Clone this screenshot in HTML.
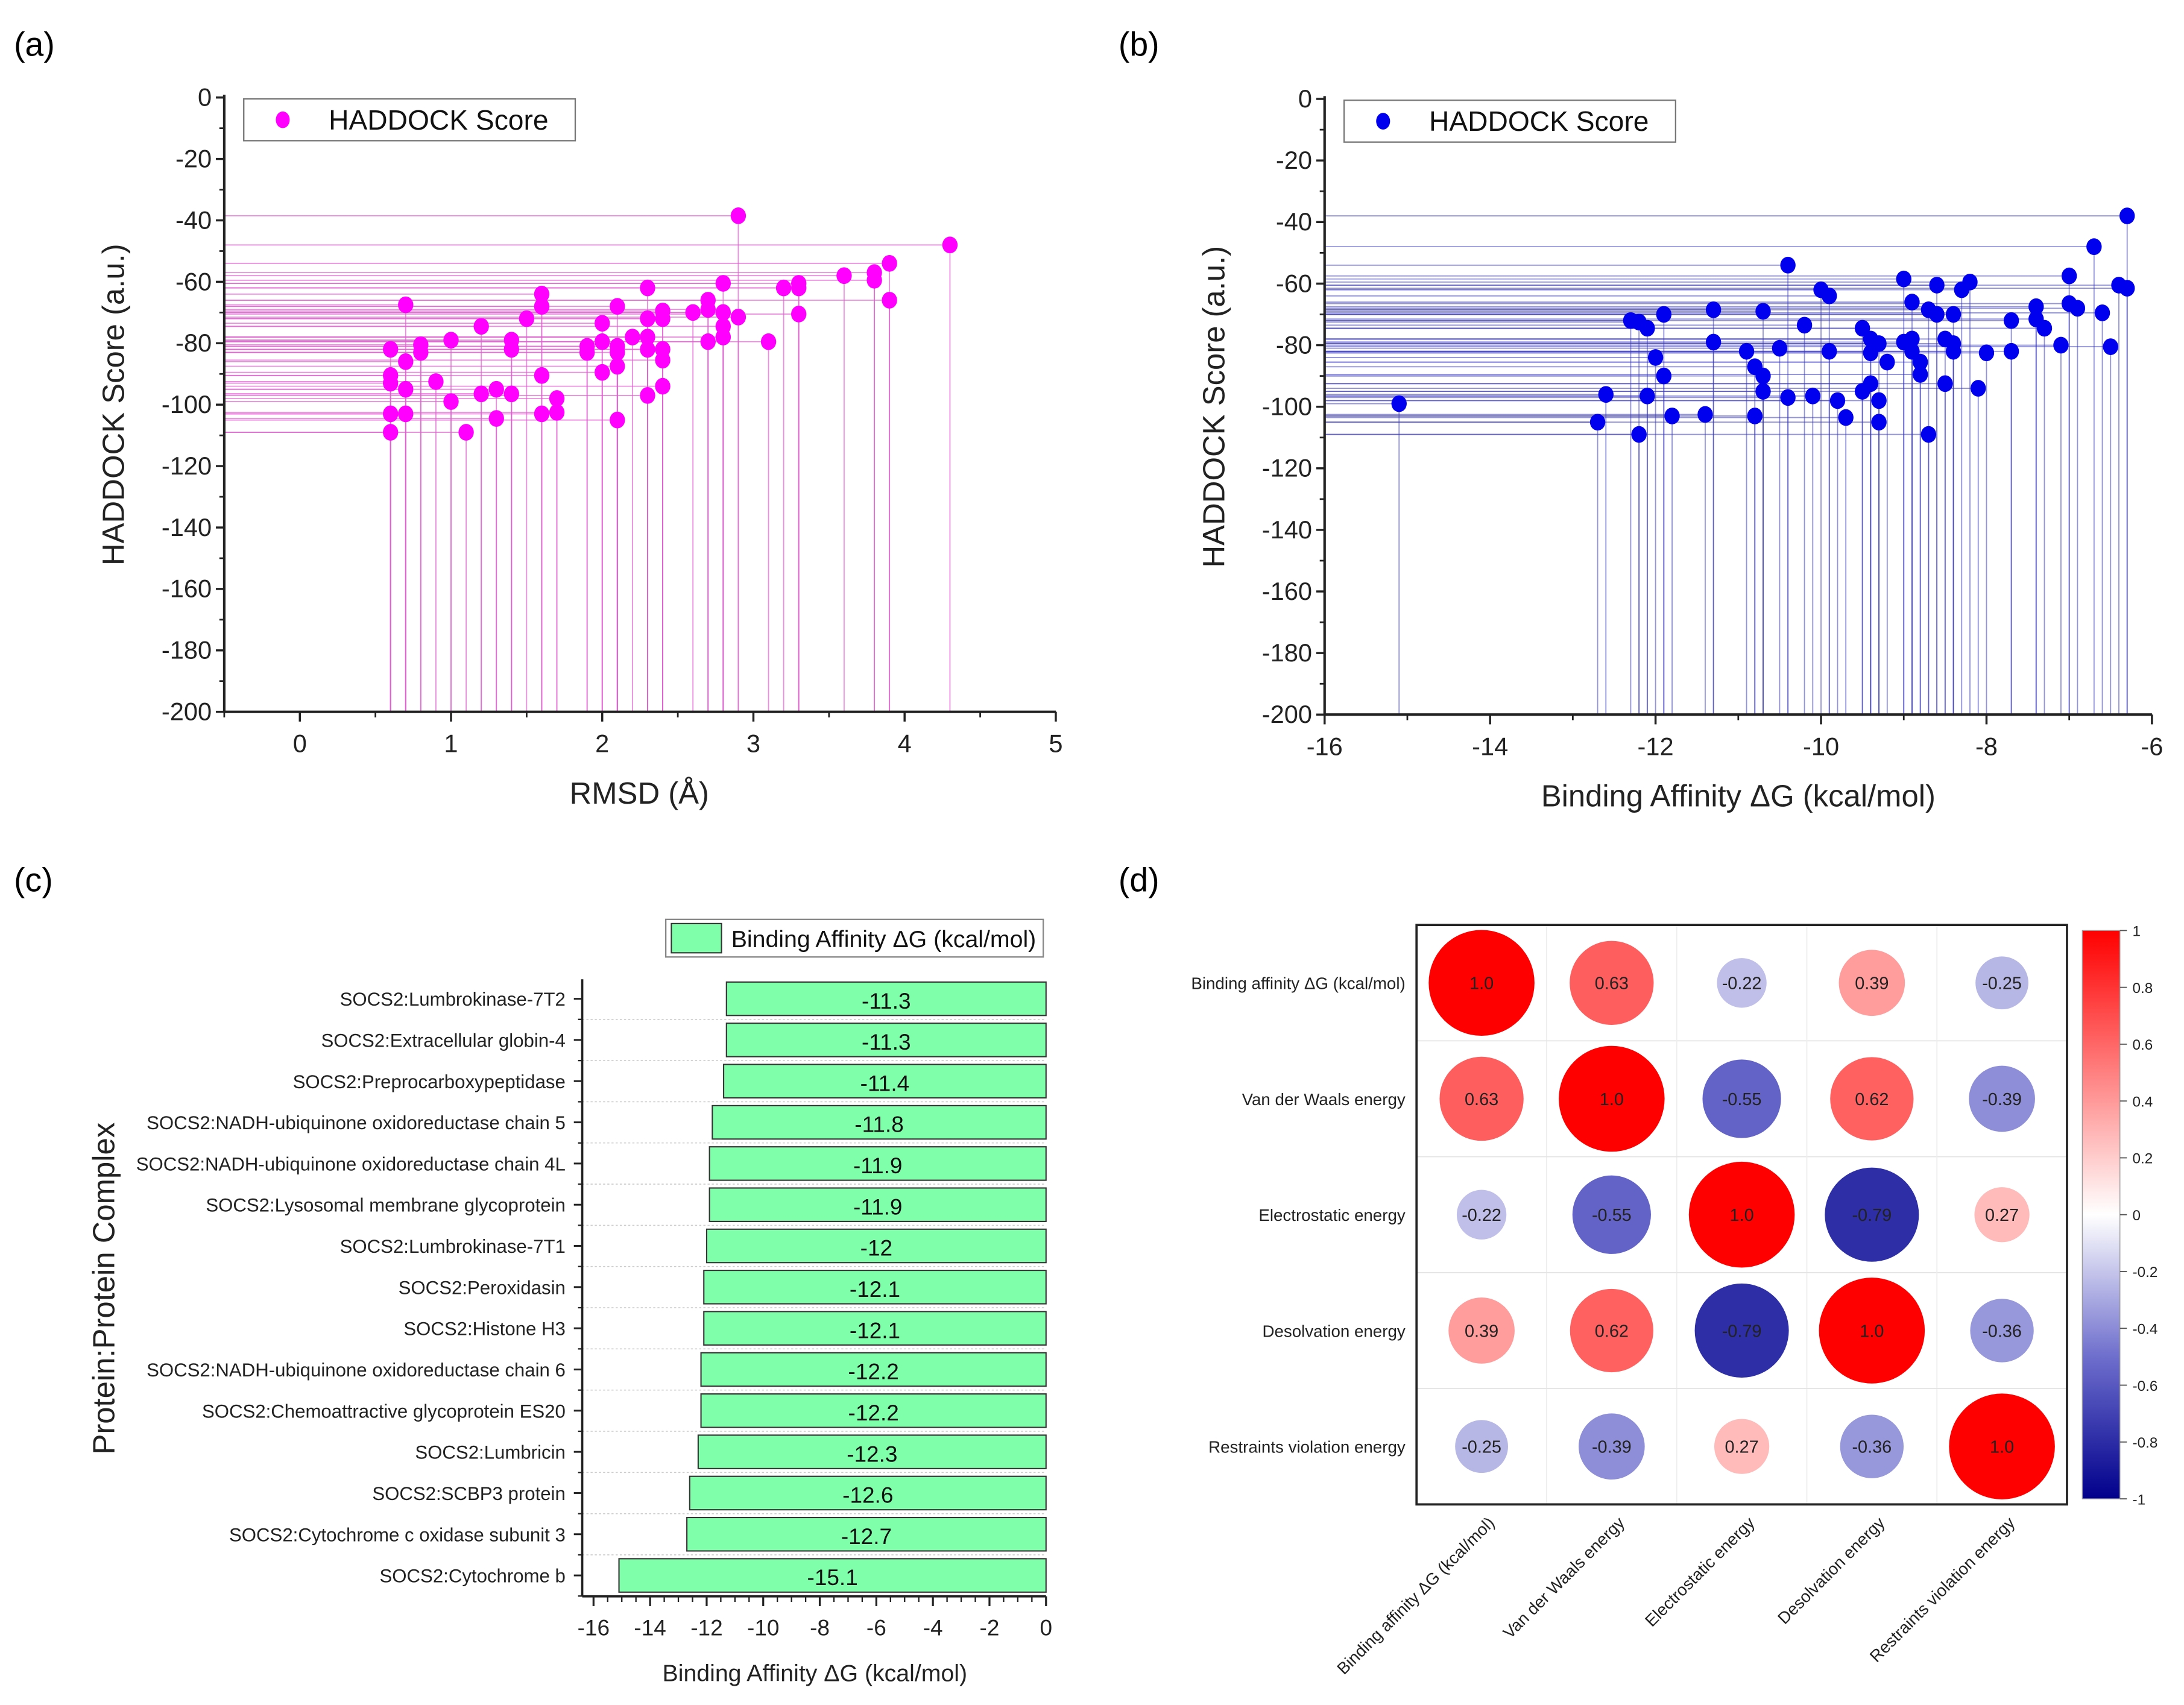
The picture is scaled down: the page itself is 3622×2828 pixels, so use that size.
<!DOCTYPE html>
<html><head><meta charset="utf-8"><style>
html,body{margin:0;padding:0;background:#fff;}
svg{display:block;font-family:"Liberation Sans",Arial,sans-serif;}
</style></head><body>
<svg id="fig" width="3622" height="2828" viewBox="0 0 1568 1224" preserveAspectRatio="none" xmlns="http://www.w3.org/2000/svg">
<rect width="1568" height="1224" fill="#fff"/>
<g id="pa"></g>
<g id="pb"></g>
<g id="pc"></g>
<g id="pd"></g>
</svg>
<script>
// Panel (a) data: RMSD vs HADDOCK score
const rmsdX = [0.6,0.6,0.6,0.6,0.6,0.7,0.7,0.7,0.7,0.8,0.8,0.9,1.0,1.0,1.1,1.2,1.2,1.3,1.3,1.4,1.4,1.4,1.5,1.6,1.6,1.6,1.6,1.7,1.7,1.9,1.9,2.0,2.0,2.0,2.1,2.1,2.1,2.1,2.1,2.2,2.3,2.3,2.3,2.3,2.3,2.4,2.4,2.4,2.4,2.4,2.6,2.7,2.7,2.7,2.8,2.8,2.8,2.8,2.9,2.9,3.1,3.2,3.3,3.3,3.3,3.6,3.8,3.8,3.9,3.9,4.3];
const rmsdScore = [-82,-90.5,-93,-103,-109,-67.5,-86,-95,-103,-80.5,-83,-92.5,-79,-99,-109,-74.5,-96.5,-95,-104.5,-79,-82,-96.5,-72,-64,-68,-90.5,-103,-98,-102.5,-81,-83,-73.5,-79.5,-89.5,-68,-81,-83,-87.5,-105,-78,-62,-72,-78,-82,-97,-69.5,-72,-82,-85.5,-94,-70,-66,-69,-79.5,-60.5,-70,-74.5,-78,-38.5,-71.5,-79.5,-62,-60.5,-62,-70.5,-58,-57,-59.5,-54,-66,-48];
// Panel (b) data: binding affinity vs HADDOCK score
const bindX = [-15.1,-12.7,-12.6,-12.3,-12.2,-12.2,-12.1,-12.1,-12.0,-11.9,-11.9,-11.8,-11.4,-11.3,-11.3,-10.9,-10.8,-10.8,-10.7,-10.7,-10.7,-10.5,-10.4,-10.4,-10.2,-10.1,-10.0,-9.9,-9.9,-9.8,-9.7,-9.5,-9.5,-9.4,-9.4,-9.4,-9.3,-9.3,-9.3,-9.2,-9.0,-9.0,-8.9,-8.9,-8.9,-8.8,-8.8,-8.7,-8.7,-8.6,-8.6,-8.5,-8.5,-8.4,-8.4,-8.4,-8.3,-8.2,-8.1,-8.0,-7.7,-7.7,-7.4,-7.4,-7.3,-7.1,-7.0,-7.0,-6.9,-6.7,-6.6,-6.5,-6.4,-6.3,-6.3];
const bindScore = [-99,-105,-96,-72,-72.5,-109,-74.5,-96.5,-84,-70,-90,-103,-102.5,-68.5,-79,-82,-87,-103,-69,-90,-95,-81,-54,-97,-73.5,-96.5,-62,-64,-82,-98,-103.5,-74.5,-95,-78,-82.5,-92.5,-79.5,-98,-105,-85.5,-58.5,-79,-66,-78,-82,-85.5,-89.5,-68.5,-109,-60.5,-70,-78,-92.5,-70,-79.5,-82,-62,-59.5,-94,-82.5,-72,-82,-67.5,-71.5,-74.5,-80,-57.5,-66.5,-68,-48,-69.5,-80.5,-60.5,-61.5,-38];
const yTicksAB = [0,-20,-40,-60,-80,-100,-120,-140,-160,-180,-200];
const xTicksA = [0,1,2,3,4,5];
const xTicksB = [-16,-14,-12,-10,-8,-6];
// Panel (c) data
const complexNames = ["SOCS2:Lumbrokinase-7T2","SOCS2:Extracellular globin-4","SOCS2:Preprocarboxypeptidase","SOCS2:NADH-ubiquinone oxidoreductase chain 5","SOCS2:NADH-ubiquinone oxidoreductase chain 4L","SOCS2:Lysosomal membrane glycoprotein","SOCS2:Lumbrokinase-7T1","SOCS2:Peroxidasin","SOCS2:Histone H3","SOCS2:NADH-ubiquinone oxidoreductase chain 6","SOCS2:Chemoattractive glycoprotein ES20","SOCS2:Lumbricin","SOCS2:SCBP3 protein","SOCS2:Cytochrome c oxidase subunit 3","SOCS2:Cytochrome b"];
const affinity = [-11.3,-11.3,-11.4,-11.8,-11.9,-11.9,-12,-12.1,-12.1,-12.2,-12.2,-12.3,-12.6,-12.7,-15.1];
const xTicksC = [-16,-14,-12,-10,-8,-6,-4,-2,0];
// Panel (d) data
const corrVars = ["Binding affinity ΔG (kcal/mol)","Van der Waals energy","Electrostatic energy","Desolvation energy","Restraints violation energy"];
const corrRow0 = [1.0,0.63,-0.22,0.39,-0.25];
const corrRow1 = [0.63,1.0,-0.55,0.62,-0.39];
const corrRow2 = [-0.22,-0.55,1.0,-0.79,0.27];
const corrRow3 = [0.39,0.62,-0.79,1.0,-0.36];
const corrRow4 = [-0.25,-0.39,0.27,-0.36,1.0];
const cbTicks = [1,0.8,0.6,0.4,0.2,0,-0.2,-0.4,-0.6,-0.8,-1];

const NS="http://www.w3.org/2000/svg";
function mk(parent,tag,attrs,text){const e=document.createElementNS(NS,tag);for(const k in attrs)e.setAttribute(k,attrs[k]);if(text!==undefined)e.textContent=text;parent.appendChild(e);return e;}

function scatterPanel(g,label,labX,ax,xs,ys,xTicks,xMin,xMax,xT,color,lineColor,lineOp,xTitle,minorStep){
  const sx=v=>ax.x0+(v-xMin)/(xMax-xMin)*(ax.x1-ax.x0);
  const sy=v=>ax.y0+(0-v)/200*(ax.y1-ax.y0);
  let t=mk(g,'text',{x:labX,y:40,'font-size':24},label);
  
  
  const lines=mk(g,'g',{});
  
  
  for(let i=0;i<xs.length;i++){
    const px=sx(xs[i]),py=sy(ys[i]);
    let h=mk(lines,'line',{x1:ax.x0,y1:py,x2:px,y2:py,stroke:lineColor,'stroke-width':0.8,'stroke-opacity':lineOp});
    
    
    let v=mk(lines,'line',{x1:px,y1:py,x2:px,y2:ax.y1,stroke:lineColor,'stroke-width':0.8,'stroke-opacity':lineOp});
    
    
  }
  for(let i=0;i<xs.length;i++){
    let c=mk(g,'ellipse',{cx:sx(xs[i]),cy:sy(ys[i]),rx:5.5,ry:6,fill:color});
    
    
  }
  // axes
  let ya=mk(g,'line',{x1:ax.x0,y1:ax.y0-2,x2:ax.x0,y2:ax.y1,stroke:'#222','stroke-width':1.8});
  
  
  let xa=mk(g,'line',{x1:ax.x0,y1:ax.y1,x2:ax.x1,y2:ax.y1,stroke:'#222','stroke-width':1.8});
  
  
  for(let k=0;k<yTicksAB.length;k++){
    const v=yTicksAB[k],py=sy(v);
    mk(g,'line',{x1:ax.x0-6,y1:py,x2:ax.x0,y2:py,stroke:'#222','stroke-width':1.5});
    if(v>-200) mk(g,'line',{x1:ax.x0-3.5,y1:sy(v-10),x2:ax.x0,y2:sy(v-10),stroke:'#222','stroke-width':1.2});
    let tl=mk(g,'text',{x:ax.x0-9,y:py+6,'font-size':18,'text-anchor':'end',fill:'#222'},v);
    
    
  }
  for(let v=xMin;v<=xMax+1e-9;v+=minorStep){
    mk(g,'line',{x1:sx(v),y1:ax.y1,x2:sx(v),y2:ax.y1+4,stroke:'#222','stroke-width':1.2});
  }
  for(let k=0;k<xTicks.length;k++){
    const px=sx(xTicks[k]);
    mk(g,'line',{x1:px,y1:ax.y1,x2:px,y2:ax.y1+7,stroke:'#222','stroke-width':1.5});
    let tl=mk(g,'text',{x:px,y:ax.y1+29,'font-size':18,'text-anchor':'middle',fill:'#222'},xTicks[k]);
    
    
  }
  let xt=mk(g,'text',{x:xT,y:ax.y1+66,'font-size':22,'text-anchor':'middle',fill:'#222'},xTitle);
  
  
  const cy=(ax.y0+ax.y1)/2;
  let yt=mk(g,'text',{x:ax.x0-72,y:cy,'font-size':22,'text-anchor':'middle',fill:'#222',transform:`rotate(-90 ${ax.x0-72} ${cy})`},'HADDOCK Score (a.u.)');
  
  
  const lg=mk(g,'g',{});
  
  
  mk(lg,'rect',{x:ax.x0+14,y:ax.y0+1,width:238,height:30,fill:'#fff',stroke:'#777','stroke-width':1});
  mk(lg,'ellipse',{cx:ax.x0+42,cy:ax.y0+16,rx:5,ry:6,fill:color});
  mk(lg,'text',{x:ax.x0+75,y:ax.y0+23,'font-size':20,fill:'#111'},'HADDOCK Score');
}

scatterPanel(document.getElementById('pa'),'(a)',10,{x0:161,x1:758,y0:70,y1:511},rmsdX,rmsdScore,xTicksA,-0.5,5.0,459,'#ff00ff','#e060d0',0.7,'RMSD (Å)',0.5);
scatterPanel(document.getElementById('pb'),'(b)',803,{x0:951,x1:1545,y0:71,y1:513},bindX,bindScore,xTicksB,-16,-6,1248,'#0000ee','#3a3ab8',0.55,'Binding Affinity ΔG (kcal/mol)',1);

// Panel (c)
(function(){
  const g=document.getElementById('pc');
  const ax={x0:418,x1:751,y0:703,y1:1146};
  const xMin=-16.4,xMax=0;
  const sx=v=>ax.x0+(v-xMin)/(xMax-xMin)*(ax.x1-ax.x0);
  const rowY=i=>717+i*29.57;
  let t=mk(g,'text',{x:10,y:640,'font-size':24},'(c)');
  
  
  for(let i=0;i<complexNames.length-1;i++){
    mk(g,'line',{x1:ax.x0,y1:rowY(i)+14.8,x2:ax.x1,y2:rowY(i)+14.8,stroke:'#ccc','stroke-width':0.7,'stroke-dasharray':'1.5 1.5'});
  }
  for(let i=0;i<affinity.length;i++){
    const y=rowY(i),x=sx(affinity[i]);
    let b=mk(g,'rect',{x:x,y:y-12,width:sx(0)-x,height:24,fill:'#80ffaa',stroke:'#333','stroke-width':0.9});
    
    
    let v=mk(g,'text',{x:(x+sx(0))/2,y:y+7,'font-size':16,'text-anchor':'middle',fill:'#111'},affinity[i]);
    
    
    mk(g,'line',{x1:ax.x0-6,y1:y,x2:ax.x0,y2:y,stroke:'#222','stroke-width':1.3});
    mk(g,'line',{x1:ax.x0-3,y1:y+14.8,x2:ax.x0,y2:y+14.8,stroke:'#222','stroke-width':1});
    let l=mk(g,'text',{x:ax.x0-12,y:y+5,'font-size':13.5,'text-anchor':'end',fill:'#222'},complexNames[i]);
    
    
  }
  let ya=mk(g,'line',{x1:ax.x0,y1:ax.y0,x2:ax.x0,y2:ax.y1,stroke:'#222','stroke-width':1.6});
  
  
  let xa=mk(g,'line',{x1:ax.x0,y1:ax.y1,x2:ax.x1,y2:ax.y1,stroke:'#222','stroke-width':1.6});
  
  
  for(let v=-16;v<=0;v+=0.5) mk(g,'line',{x1:sx(v),y1:ax.y1,x2:sx(v),y2:ax.y1+4,stroke:'#222','stroke-width':1});
  for(let k=0;k<xTicksC.length;k++){
    const px=sx(xTicksC[k]);
    mk(g,'line',{x1:px,y1:ax.y1,x2:px,y2:ax.y1+7,stroke:'#222','stroke-width':1.4});
    let tl=mk(g,'text',{x:px,y:ax.y1+28,'font-size':16,'text-anchor':'middle',fill:'#222'},xTicksC[k]);
    
    
  }
  let xt=mk(g,'text',{x:585,y:1207,'font-size':17,'text-anchor':'middle',fill:'#222'},'Binding Affinity ΔG (kcal/mol)');
  
  
  let yt=mk(g,'text',{x:82,y:925,'font-size':22,'text-anchor':'middle',fill:'#222',transform:'rotate(-90 82 925)'},'Protein:Protein Complex');
  
  
  const lg=mk(g,'g',{});
  
  
  mk(lg,'rect',{x:478,y:660,width:271,height:27,fill:'#fff',stroke:'#888','stroke-width':1});
  mk(lg,'rect',{x:482,y:663,width:36,height:21,fill:'#80ffaa',stroke:'#333','stroke-width':0.9});
  mk(lg,'text',{x:525,y:680,'font-size':17,fill:'#111'},'Binding Affinity ΔG (kcal/mol)');
})();

// Panel (d)
(function(){
  const g=document.getElementById('pd');
  const corr=[corrRow0,corrRow1,corrRow2,corrRow3,corrRow4];
  const bx=1017,by=664,bw=467,bh=416,cw=bw/5,ch=bh/5;
  function col(v){
    let r,gg,b;
    if(v>=0){r=255;gg=Math.round(255*(1-v));b=gg;}
    else{const a=-v;
      if(a<=0.5){const f=a/0.5;r=Math.round(255-f*(255-110));gg=r;b=Math.round(255-f*(255-205));}
      else{const f=(a-0.5)/0.5;r=Math.round(110-f*110);gg=r;b=Math.round(205-f*(205-140));}}
    return `rgb(${r},${gg},${b})`;
  }
  let t=mk(g,'text',{x:803,y:640,'font-size':24},'(d)');
  
  
  mk(g,'rect',{x:bx,y:by,width:bw,height:bh,fill:'#fff'});
  for(let k=1;k<5;k++){
    mk(g,'line',{x1:bx+k*cw,y1:by,x2:bx+k*cw,y2:by+bh,stroke:'#eee','stroke-width':0.8});
    mk(g,'line',{x1:bx,y1:by+k*ch,x2:bx+bw,y2:by+k*ch,stroke:'#e4e4e4','stroke-width':0.8});
  }
  for(let i=0;i<5;i++){
    for(let j=0;j<5;j++){
      const v=corr[i][j],cx=bx+(j+0.5)*cw,cy=by+(i+0.5)*ch,r=38*Math.sqrt(Math.abs(v));
      let c=mk(g,'circle',{cx:cx,cy:cy,r:r,fill:col(v)});
      
      
      let tx=mk(g,'text',{x:cx,y:cy+4.5,'font-size':12.5,'text-anchor':'middle',fill:'#222'},v===1?'1.0':v);
      
      
    }
    let rl=mk(g,'text',{x:bx-8,y:by+(i+0.5)*ch+4.5,'font-size':12,'text-anchor':'end',fill:'#222'},corrVars[i]);
    
    
    const lx=bx+(i+0.5)*cw+10,ly=by+bh+14;
    let cl=mk(g,'text',{x:lx,y:ly,'font-size':12,'text-anchor':'end',fill:'#222',transform:`rotate(-45 ${lx} ${ly})`},corrVars[i]);
    
    
  }
  let fr=mk(g,'rect',{x:bx,y:by,width:bw,height:bh,fill:'none',stroke:'#222','stroke-width':1.6});
  
  
  // colorbar
  const defs=mk(g,'defs',{});
  const lgd=mk(defs,'linearGradient',{id:'cbg',x1:0,y1:0,x2:0,y2:1});
  for(let k=0;k<=20;k++){const v=1-k/10;mk(lgd,'stop',{offset:(k/20),'stop-color':col(v)});}
  const cbx=1495,cby=668,cbw=27,cbh=408;
  let cb=mk(g,'rect',{x:cbx,y:cby,width:cbw,height:cbh,fill:'url(#cbg)',stroke:'#999','stroke-width':0.6});
  
  
  for(let k=0;k<cbTicks.length;k++){
    const v=cbTicks[k],py=cby+(1-v)/2*cbh;
    mk(g,'line',{x1:cbx+cbw,y1:py,x2:cbx+cbw+5,y2:py,stroke:'#555','stroke-width':0.8});
    let tl=mk(g,'text',{x:cbx+cbw+9,y:py+4,'font-size':10.5,fill:'#222'},v);
    
    
  }
})();
</script>
</body></html>
